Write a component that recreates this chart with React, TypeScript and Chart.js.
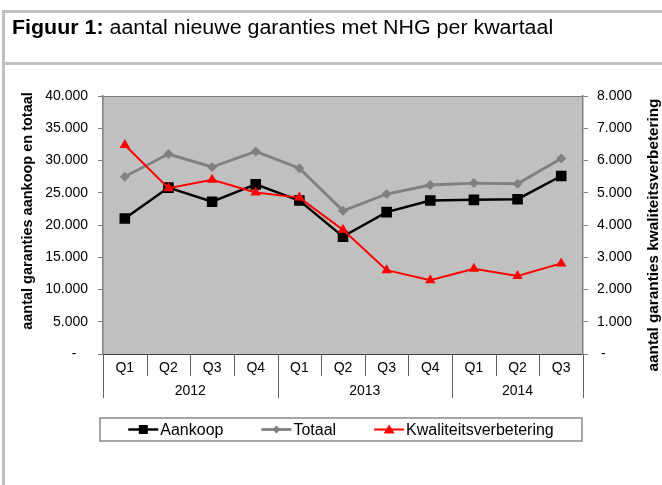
import React, { useEffect, useRef } from "react";
import { Chart, registerables } from "chart.js";

Chart.register(...registerables);

const quarterLabels = ["Q1", "Q2", "Q3", "Q4", "Q1", "Q2", "Q3", "Q4", "Q1", "Q2", "Q3"];
const years = ["2012", "2013", "2014"];
const quartersPerYear = [4, 4, 3];

const aankoop = [21000, 25800, 23600, 26300, 23800, 18200, 22000, 23800, 23900, 24000, 27600];
const totaal = [27500, 31000, 29000, 31400, 28800, 22200, 24800, 26200, 26500, 26400, 30300];
const kwaliteitsverbetering = [6480, 5140, 5400, 5010, 4850, 3850, 2600, 2290, 2640, 2420, 2810];

const leftTicksMax = 40000;
const leftStep = 5000;
const rightTicksMax = 8000;
const rightStep = 1000;

const titleBold = "Figuur 1:";
const titleRest = " aantal nieuwe garanties met NHG per kwartaal";
const leftAxisTitle = "aantal garanties aankoop en totaal";
const rightAxisTitle = "aantal garanties kwaliteitsverbetering";
const seriesNames = ["Aankoop", "Totaal", "Kwaliteitsverbetering"];

const FONT = '"Liberation Sans", Arial, sans-serif';

function fmt(v: number): string {
  return String(v).replace(/\B(?=(\d{3})+(?!\d))/g, ".");
}

const X_H = 50;

const decorPlugin = {
  id: "decor",
  beforeDraw(chart: any) {
    const { ctx, chartArea } = chart;
    const { left, right, top, bottom } = chartArea;
    ctx.save();
    ctx.fillStyle = "#c0c0c0";
    ctx.fillRect(left, top, right - left, bottom - top);
    ctx.strokeStyle = "#808080";
    ctx.lineWidth = 1;
    ctx.beginPath();
    ctx.moveTo(left, top + 0.5);
    ctx.lineTo(right, top + 0.5);
    ctx.stroke();
    ctx.restore();
  },
  afterDraw(chart: any) {
    const { ctx, chartArea } = chart;
    const { left, right, top, bottom } = chartArea;
    const xs = chart.scales.x;
    ctx.save();
    // quarter labels
    ctx.font = `14px ${FONT}`;
    ctx.fillStyle = "#000";
    ctx.textAlign = "center";
    ctx.textBaseline = "middle";
    quarterLabels.forEach((q, i) => {
      ctx.fillText(q, xs.getPixelForValue(i), bottom + 14);
    });
    // separators
    ctx.strokeStyle = "#606060";
    ctx.lineWidth = 1;
    const yearBounds = new Set<number>();
    let acc = 0;
    yearBounds.add(0);
    quartersPerYear.forEach((c) => {
      acc += c;
      yearBounds.add(acc);
    });
    for (let i = 0; i <= quarterLabels.length; i++) {
      const x = Math.round(xs.getPixelForValue(i - 0.5)) + 0.5;
      const len = yearBounds.has(i) ? 44 : 22;
      ctx.beginPath();
      ctx.moveTo(x, bottom);
      ctx.lineTo(x, bottom + len);
      ctx.stroke();
    }
    // year labels
    let start = 0;
    years.forEach((y, k) => {
      const c = quartersPerYear[k];
      ctx.fillText(y, xs.getPixelForValue(start + (c - 1) / 2), bottom + 37);
      start += c;
    });
    // axis titles
    ctx.textBaseline = "middle";
    ctx.font = `bold 14.5px ${FONT}`;
    ctx.save();
    ctx.translate(28, 211);
    ctx.rotate(-Math.PI / 2);
    ctx.fillText(leftAxisTitle, 0, 0);
    ctx.restore();
    ctx.font = `bold 15.3px ${FONT}`;
    ctx.save();
    ctx.translate(654, 235);
    ctx.rotate(-Math.PI / 2);
    ctx.fillText(rightAxisTitle, 0, 0);
    ctx.restore();

    // legend
    const boxL = left - 3;
    const boxR = right - 1;
    const boxT = 418;
    const boxB = 441;
    ctx.strokeStyle = "#888";
    ctx.lineWidth = 1.5;
    ctx.strokeRect(boxL, boxT, boxR - boxL, boxB - boxT);
    ctx.font = `16px ${FONT}`;
    ctx.textAlign = "left";
    const lineLen = 30;
    const gapT = 2;
    const gapItems = 38;
    const widths = seriesNames.map((n) => ctx.measureText(n).width);
    const total = widths.reduce((a, w) => a + lineLen + gapT + w, 0) + gapItems * (seriesNames.length - 1);
    let x = (boxL + boxR) / 2 - total / 2;
    const cy = (boxT + boxB) / 2;
    chart.data.datasets.forEach((ds: any, i: number) => {
      ctx.strokeStyle = ds.borderColor;
      ctx.lineWidth = ds.borderWidth;
      ctx.beginPath();
      ctx.moveTo(x, cy);
      ctx.lineTo(x + lineLen, cy);
      ctx.stroke();
      const mx = x + lineLen / 2;
      ctx.fillStyle = ds.pointBackgroundColor;
      ctx.beginPath();
      if (ds.pointStyle === "rect") {
        ctx.rect(mx - 4.5, cy - 4.5, 9, 9);
      } else if (ds.pointStyle === "rectRot") {
        ctx.moveTo(mx, cy - 4);
        ctx.lineTo(mx + 4, cy);
        ctx.lineTo(mx, cy + 4);
        ctx.lineTo(mx - 4, cy);
        ctx.closePath();
      } else {
        ctx.moveTo(mx, cy - 5);
        ctx.lineTo(mx + 5.5, cy + 4);
        ctx.lineTo(mx - 5.5, cy + 4);
        ctx.closePath();
      }
      ctx.fill();
      ctx.fillStyle = "#000";
      ctx.fillText(seriesNames[i], x + lineLen + gapT, cy + 1);
      x += lineLen + gapT + widths[i] + gapItems;
    });
    ctx.restore();
  },
};

export default function App() {
  const ref = useRef<HTMLCanvasElement | null>(null);

  useEffect(() => {
    if (!ref.current) return;
    const chart = new Chart(ref.current, {
      type: "line",
      data: {
        labels: quarterLabels,
        datasets: [
          {
            label: seriesNames[0],
            data: aankoop,
            yAxisID: "y",
            borderColor: "#000000",
            backgroundColor: "#000000",
            pointBackgroundColor: "#000000",
            pointBorderColor: "#000000",
            borderWidth: 2.5,
            pointStyle: "rect",
            pointRadius: 7.5,
            pointBorderWidth: 0,
            order: 1,
          },
          {
            label: seriesNames[1],
            data: totaal,
            yAxisID: "y",
            borderColor: "#808080",
            backgroundColor: "#808080",
            pointBackgroundColor: "#808080",
            pointBorderColor: "#808080",
            borderWidth: 2.8,
            pointStyle: "rectRot",
            pointRadius: 5,
            pointBorderWidth: 0,
            order: 2,
          },
          {
            label: seriesNames[2],
            data: kwaliteitsverbetering,
            yAxisID: "y2",
            borderColor: "#ff0000",
            backgroundColor: "#ff0000",
            pointBackgroundColor: "#ff0000",
            pointBorderColor: "#ff0000",
            borderWidth: 2,
            pointStyle: "triangle",
            pointRadius: 6,
            pointBorderWidth: 0,
            order: 0,
          },
        ],
      },
      options: {
        responsive: false,
        animation: false,
        events: [],
        layout: { padding: { top: 96, bottom: 485 - 354 - X_H, left: 0, right: 0 } },
        plugins: {
          legend: { display: false },
          tooltip: { enabled: false },
          title: { display: false },
        },
        scales: {
          x: {
            type: "category",
            offset: true,
            grid: { display: false },
            ticks: { display: false },
            border: { display: true, color: "#404040", width: 1 },
            afterFit: (s: any) => {
              s.height = X_H;
            },
          },
          y: {
            position: "left",
            min: 0,
            max: leftTicksMax,
            ticks: {
              stepSize: leftStep,
              color: "#000",
              font: { family: FONT, size: 14 },
              padding: 10,
              callback: (v: any) => (Number(v) === 0 ? "-   " : fmt(Number(v))),
            },
            grid: { drawOnChartArea: false, drawTicks: true, tickLength: 5, color: "#808080" },
            border: { display: true, color: "#808080", width: 1.5 },
            afterFit: (s: any) => {
              s.width = 103;
            },
          },
          y2: {
            position: "right",
            min: 0,
            max: rightTicksMax,
            ticks: {
              stepSize: rightStep,
              color: "#000",
              font: { family: FONT, size: 14 },
              padding: 9,
              callback: (v: any) => (Number(v) === 0 ? " -" : fmt(Number(v))),
            },
            grid: { drawOnChartArea: false, drawTicks: true, tickLength: 5, color: "#808080" },
            border: { display: true, color: "#808080", width: 1.5 },
            afterFit: (s: any) => {
              s.width = 79;
            },
          },
        },
      },
      plugins: [decorPlugin],
    } as any);
    return () => chart.destroy();
  }, []);

  return (
    <div style={{ position: "absolute", left: 0, top: 0, width: 662, height: 485, overflow: "hidden", background: "#fff" }}>
      <canvas ref={ref} width={662} height={485} style={{ position: "absolute", left: 0, top: 0, width: 662, height: 485 }} />
      <div style={{ position: "absolute", left: 2, top: 10, width: 3, height: 475, background: "#c0c0c0" }} />
      <div style={{ position: "absolute", left: 2, top: 10, width: 660, height: 3, background: "#c0c0c0" }} />
      <div style={{ position: "absolute", left: 2, top: 62, width: 660, height: 3, background: "#c0c0c0" }} />
      <div
        style={{
          position: "absolute",
          left: 12,
          top: 15,
          fontFamily: FONT,
          fontSize: 20,
          lineHeight: "24px",
          color: "#000",
          whiteSpace: "nowrap",
          transform: "scaleX(1.07)",
          transformOrigin: "left top",
        }}
      >
        <b>{titleBold}</b>
        {titleRest}
      </div>
    </div>
  );
}
